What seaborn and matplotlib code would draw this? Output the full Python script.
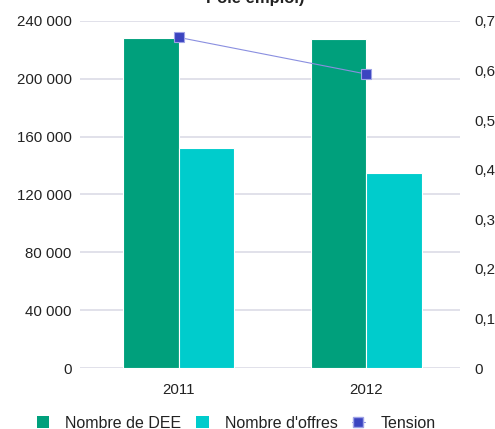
import pandas as pd
import numpy as np
from matplotlib import pyplot as plt
from matplotlib.lines import Line2D
from matplotlib.patches import Patch
import seaborn as sns

years = ['2011', '2012']
dee = [228300, 227600]
offres = [152200, 134900]
tension = [0.667, 0.593]
left_ticks = [0, 40000, 80000, 120000, 160000, 200000, 240000]
right_ticks = [0, 0.1, 0.2, 0.3, 0.4, 0.5, 0.6, 0.7]

c_dee = '#00a07c'
c_off = '#00cccc'
c_ten = '#3b44c0'

df = pd.DataFrame({
    'Année': years * 2,
    'Valeur': dee + offres,
    'Série': ['Nombre de DEE'] * 2 + ["Nombre d'offres"] * 2,
})

sns.set_theme(style='white')
plt.rcParams['font.family'] = ['Liberation Sans', 'DejaVu Sans']

fig = plt.figure(figsize=(4.95, 4.29), dpi=100)
ax = fig.add_axes([80 / 495, 1 - 368 / 429, 380 / 495, 347 / 429])

sns.barplot(data=df, x='Année', y='Valeur', hue='Série', ax=ax,
            palette=[c_dee, c_off], saturation=1, width=0.59,
            edgecolor='white', linewidth=0.8, legend=False, zorder=3)

ax.set_ylim(0, 240000)
ax.set_yticks(left_ticks)
ax.set_yticklabels([f'{v:,}'.replace(',', ' ') for v in left_ticks])
ax.yaxis.grid(True, color='#dcdce6', linewidth=1.2, zorder=0)
ax.set_axisbelow(True)
ax.set_xlabel('')
ax.set_ylabel('')
for s in ax.spines.values():
    s.set_visible(False)
ax.tick_params(axis='y', length=0, pad=6, labelsize=10.8, colors='#222222')
ax.tick_params(axis='x', length=0, pad=11, labelsize=10.8, colors='#222222')

ax2 = ax.twinx()
sns.pointplot(x=years, y=tension, ax=ax2, color=c_ten, markers='s',
              linewidth=0.8, markersize=7)
for ln in ax2.lines:
    ln.set_color('#8a8fe0')
    ln.set_markerfacecolor(c_ten)
    ln.set_markeredgecolor('#9ea2e6')
    ln.set_markeredgewidth(0.8)
ax2.set_ylim(0, 0.7)
ax2.set_yticks(right_ticks)
ax2.set_yticklabels([f'{v:g}'.replace('.', ',') for v in right_ticks])
ax2.set_ylabel('')
for s in ax2.spines.values():
    s.set_visible(False)
ax2.tick_params(axis='y', length=0, pad=10, labelsize=10.8, colors='#222222')
ax2.grid(False)
ax.set_xlim(-0.525, 1.5)

# title is clipped at the top edge in the source image
fig.text(0.515, 1 - 3 / 429, 'Pôle emploi)', ha='center', va='baseline',
         fontsize=12, fontweight='bold', color='#222222')

handles = [
    Patch(facecolor=c_dee, edgecolor='none'),
    Patch(facecolor=c_off, edgecolor='none'),
    Line2D([0], [0], color='#8a8fe0', lw=0.8, marker='s', markersize=7,
           markerfacecolor=c_ten, markeredgecolor='#9ea2e6'),
]
fig.legend(handles, ['Nombre de DEE', "Nombre d'offres", 'Tension'],
           loc='center', bbox_to_anchor=(0.477, 1 - 423 / 429), ncol=3,
           frameon=False, fontsize=11.5, handlelength=0.8, handleheight=0.8,
           handletextpad=1.0, columnspacing=0.9, labelcolor='#222222')

fig.savefig('out.png', dpi=100)
